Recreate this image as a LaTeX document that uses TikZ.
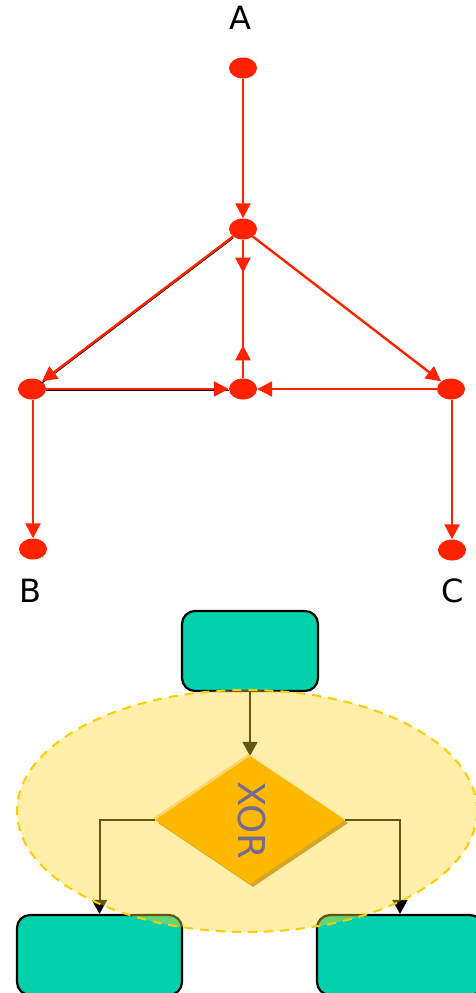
\documentclass[tikz,border=0pt]{standalone}
\usepackage{fontspec}
\setmainfont{DejaVu Sans}
\usetikzlibrary{arrows.meta,shapes.geometric,decorations.markings}

\definecolor{nodered}{RGB}{255,34,0}
\definecolor{boxteal}{RGB}{0,209,170}
\definecolor{veilyellow}{RGB}{255,214,40}
\definecolor{veilgold}{RGB}{255,204,0}
\definecolor{xorfill}{RGB}{255,184,0}
\definecolor{xorshade}{RGB}{214,166,40}
\definecolor{xorlight}{RGB}{255,212,110}
\definecolor{xortext}{RGB}{118,106,146}

\pgfdeclarelayer{back}
\pgfdeclarelayer{veil}
\pgfsetlayers{back,veil,main}

\tikzset{
  dot/.style={ellipse, fill=nodered, minimum width=28pt, minimum height=21pt, inner sep=0pt},
  redline/.style={draw=nodered, line width=2.4pt},
  redtip/.tip={Triangle[length=15pt,width=15pt]},
  redarrow/.style={redline, -redtip},
  redshadow/.style={draw=black, line width=1.2pt, transform canvas={yshift=-1.5pt}},
  letter/.style={font=\fontsize{32}{32}\selectfont, inner sep=0pt},
  stepbox/.style={rounded corners=13pt, fill=boxteal, draw=black, line width=2.2pt,
    minimum height=80pt, inner sep=0pt},
  xorshape/.style={diamond, minimum width=190pt, minimum height=128pt, inner sep=0pt},
  flow/.style={draw=black, line width=2pt, -{Triangle[length=14pt,width=15pt]}},
}

\begin{document}
\begin{tikzpicture}[x=1pt,y=-1pt]
\useasboundingbox (0,0) rectangle (475,993);
\clip (0,0) rectangle (475,993);

% ---- upper graph ----
\node[letter] (la) at (240,18) {A};
\node[letter] (lb) at (30,591) {B};
\node[letter] (lc) at (453,591) {C};

\node[dot] (A) at (243,68) {};
\node[dot] (J) at (243,229) {};
\node[dot] (L) at (32,389) {};
\node[dot] (M) at (243,389) {};
\node[dot] (R) at (451,389) {};
\node[dot] (B) at (33,549) {};
\node[dot] (C) at (452,550) {};

% dark under-strokes
\draw[redshadow] (L) -- (M);
\draw[redshadow] (J) -- (L);

\draw[redarrow] (A) -- (J);
\draw[redarrow] (J) -- (L);
\draw[redarrow] (J) -- (R);
\draw[redarrow] (L) -- (M);
\draw[redarrow] (R) -- (M);
\draw[redarrow] (B |- L.south) -- (B);
\draw[redarrow] (C |- R.south) -- (C);
\draw[redline, postaction={decorate}, decoration={markings,
    mark=at position 33pt with {\arrow{redtip}},
    mark=at position -33pt with {\arrowreversed{redtip}}}]
  (J) -- (M);

% ---- lower flow chart ----
\node[xorshape, fill=xorlight] (Dhi) at (248,818) {};
\node[xorshape, fill=xorshade] (Dsh) at (253,823) {};
\node[xorshape, fill=xorfill] (D) at (250,820) {};
\node[rotate=-90, text=xortext, font=\fontsize{37}{37}\selectfont, inner sep=0pt] (X) at (252,820) {XOR};

\begin{pgfonlayer}{back}
  \node[stepbox, minimum width=136pt] (T) at (250,651) {};
  \node[stepbox, minimum width=165pt] (BL) at (99.5,955) {};
  \node[stepbox, minimum width=166pt] (BR) at (400,955) {};
  \draw[flow] (T) -- (D);
  \draw[flow] (D.west) -| (BL.north);
  \draw[flow] (D.east) -| (BR.north);
\end{pgfonlayer}

\begin{pgfonlayer}{veil}
  \node[ellipse, minimum width=460pt, minimum height=242pt, inner sep=0pt,
        fill=veilyellow, fill opacity=0.4, draw=veilgold, line width=2pt,
        dash pattern=on 9pt off 7pt] (E) at (247,811) {};
\end{pgfonlayer}
\end{tikzpicture}
\end{document}
